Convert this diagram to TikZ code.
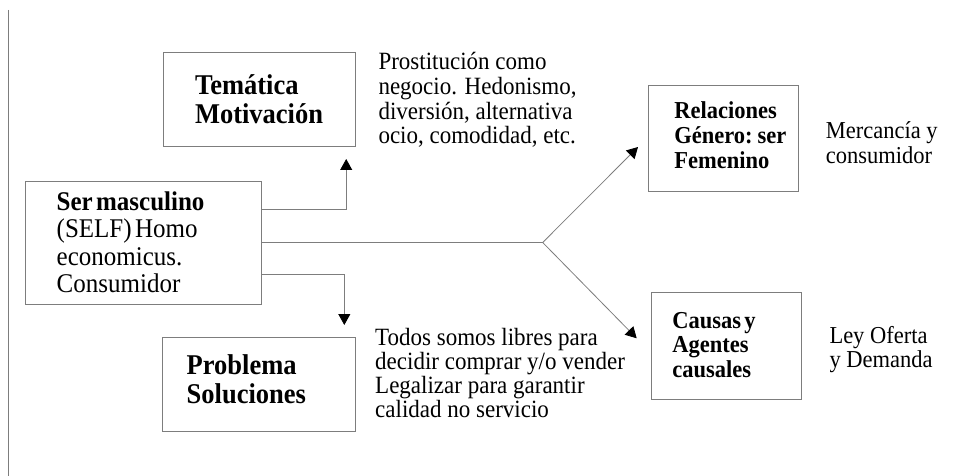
\documentclass[tikz,border=0pt]{standalone}
\usepackage{fontspec}
\setmainfont{Liberation Serif}
\usepackage{graphicx}
\usetikzlibrary{arrows.meta}
\definecolor{linea}{RGB}{125,125,125}
% lines at a fixed distance, letters a little taller than wide
\newcommand{\lineas}[3]{\scalebox{1}[1.08]{\fontsize{#1}{#1}\selectfont\baselineskip=\dimexpr#2pt*100/108\relax\lineskiplimit=-100pt\vtop{\halign{##\hfil\cr#3\cr}}}}
\tikzset{
	caja/.style={draw=linea, line width=0.8pt, inner sep=0pt, align=left, text height=20pt},
	flecha/.style={draw=linea, line width=0.8pt, -{Triangle[length=11pt,width=12pt,black]}},
	linea/.style={draw=linea, line width=0.8pt},
	nota/.style={inner sep=0pt, anchor=base west},
}
\begin{document}
\begin{tikzpicture}[x=1pt,y=-1pt]
	\useasboundingbox (0,0) rectangle (978,476);
	\draw[linea] (8,10) -- (8,476);
	% cajas
	\node[caja, minimum width=236pt, minimum height=123.3pt, text width=174pt, text depth=84pt] (ser) at (143.7,242.7)
		{\lineas{25}{27.3}{\textbf{Ser masculino}\cr (SELF) Homo\cr economicus.\cr Consumidor}};
	\node[caja, minimum width=192pt, minimum height=94pt, text width=128pt, text depth=29.4pt] (tematica) at (259,99.7)
		{\lineas{26.5}{29}{\textbf{Temática}\cr\textbf{Motivación}}};
	\node[caja, minimum width=192.7pt, minimum height=93.7pt, text width=144pt, text depth=40.4pt] (problema) at (258.7,384.2)
		{\lineas{26.5}{29.3}{\textbf{Problema}\cr\textbf{Soluciones}}};
	\node[caja, minimum width=150pt, minimum height=106.7pt, text width=98pt, text depth=60pt] (relaciones) at (723.3,138.3)
		{\lineas{22.5}{25.3}{\textbf{Relaciones}\cr\textbf{Género: ser}\cr\textbf{Femenino}}};
	\node[caja, minimum width=150pt, minimum height=106.3pt, text width=108.8pt, text depth=55.8pt] (causas) at (726.7,345.9)
		{\lineas{22.5}{24.5}{\textbf{Causas y}\cr\textbf{Agentes}\cr\textbf{causales}}};
	% notas
	\node[nota] (prost) at (378.3,69.3)
		{\lineas{23}{24.9}{Prostitución como\cr negocio. Hedonismo,\cr diversión, alternativa\cr ocio, comodidad, etc.}};
	\node[nota] (todos) at (375,345)
		{\lineas{23}{24.3}{Todos somos libres para\cr decidir comprar y/o vender\cr Legalizar para garantir\cr calidad no servicio}};
	\node[nota] (mercancia) at (825.7,138.3) {\lineas{22.5}{25}{Mercancía y\cr consumidor}};
	\node[nota] (ley) at (829.3,343) {\lineas{22.5}{24.5}{Ley Oferta\cr y Demanda}};
	% conectores
	\coordinate (puntaT) at (346.2,159);
	\coordinate (puntaP) at (344.3,325);
	\coordinate (rama) at (542.7,242.5);
	\coordinate (puntaR) at (638,147);
	\coordinate (puntaC) at (636.7,338.3);
	\draw[flecha] (ser.east |- 0,209.3) -| (puntaT);
	\draw[flecha] (ser.east |- 0,274) -| (puntaP);
	\draw[linea] (ser.east |- rama) -- (rama);
	\draw[flecha] (rama) -- (puntaR);
	\draw[flecha] (rama) -- (puntaC);
\end{tikzpicture}
\end{document}
